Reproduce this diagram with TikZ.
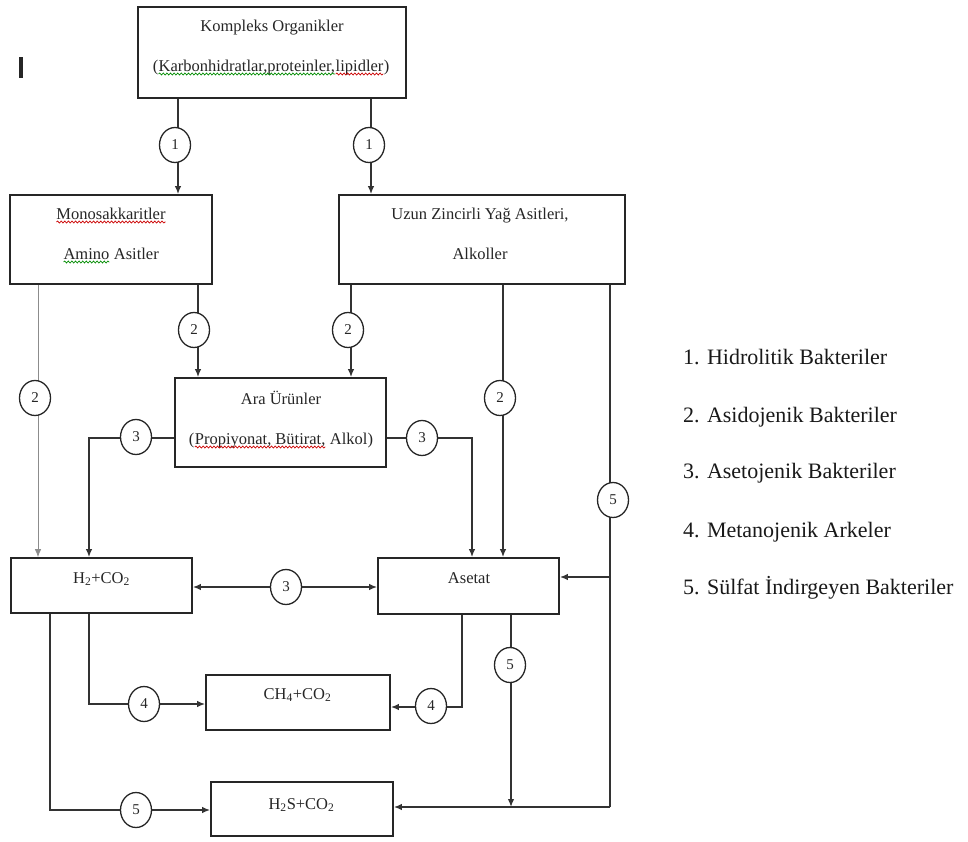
\documentclass[tikz,border=0pt]{standalone}
\usepackage{fontspec}
\setmainfont{Liberation Serif}
\usetikzlibrary{arrows.meta,shapes.geometric,decorations.pathmorphing}
\newcommand\wv[2]{\tikz[baseline=(w.base)]{\node[inner sep=0pt,outer sep=0pt](w){#2};\draw[#1,line width=0.7pt,decorate,decoration={snake,amplitude=1pt,segment length=3.6pt}] ([yshift=-3pt]w.base west) -- ([yshift=-3pt]w.base east);}}
\begin{document}
\begin{tikzpicture}[x=1pt,y=-1pt,
  box/.style={draw=black!85,line width=1.8pt,rectangle,inner sep=0pt},
  txt/.style={inner sep=0pt,anchor=base,font=\fontsize{16.5}{19}\selectfont,text=black!85},
  leg/.style={inner sep=0pt,anchor=base west,font=\fontsize{22}{26}\selectfont,text=black!90},
  num/.style={ellipse,draw=black!85,line width=1.3pt,fill=white,minimum width=31pt,minimum height=35pt,inner sep=0pt,font=\fontsize{15}{17}\selectfont,text=black!85},
  ln/.style={draw=black!80,line width=1.4pt},
  thinln/.style={draw=black!45,line width=0.8pt},
  arr/.style={-{Latex[length=8pt,width=6.5pt]}},
  darr/.style={{Latex[length=8pt,width=6.5pt]}-{Latex[length=8pt,width=6.5pt]}}]
\fill[white] (0,0) rectangle (968,841);
\useasboundingbox (0,0) rectangle (968,841);

% stray mark
\fill[black!85] (19,57) rectangle (23,78);

% boxes
\node[box,minimum width=268pt,minimum height=91pt] (top) at (272,52.5) {};
\node[box,minimum width=202pt,minimum height=89pt] (mono) at (111,239.5) {};
\node[box,minimum width=286pt,minimum height=89pt] (uzun) at (482,239.5) {};
\node[box,minimum width=211pt,minimum height=89pt] (ara) at (280.5,422.5) {};
\node[box,minimum width=181pt,minimum height=55pt] (h2) at (101.5,585.5) {};
\node[box,minimum width=181pt,minimum height=56pt] (aset) at (468.5,586) {};
\node[box,minimum width=184pt,minimum height=55pt] (ch4) at (298,702.5) {};
\node[box,minimum width=182pt,minimum height=54pt] (h2s) at (302,809) {};

% box texts
\node[txt] (t1) at (272,31) {Kompleks Organikler};
\node[txt] (t2) at (271,71) {(\wv{green!55!black}{Karbonhidratlar,proteinler,}\wv{red!80!black}{lipidler})};
\node[txt] (t3) at (111,219) {\wv{red!80!black}{Monosakkaritler}};
\node[txt] (t4) at (111,259) {\wv{green!55!black}{Amino} Asitler};
\node[txt] (t5) at (480,219) {Uzun Zincirli Yağ Asitleri,};
\node[txt] (t6) at (480,259) {Alkoller};
\node[txt] (t7) at (281,404) {Ara Ürünler};
\node[txt] (t8) at (281,444) {(\wv{red!80!black}{Propiyonat, Bütirat,} Alkol)};
\node[txt] (t9) at (101.5,583) {H\textsubscript{2}+CO\textsubscript{2}};
\node[txt] (t10) at (469,583) {Asetat};
\node[txt] (t11) at (297.5,699) {CH\textsubscript{4}+CO\textsubscript{2}};
\node[txt] (t12) at (301.5,809) {H\textsubscript{2}S+CO\textsubscript{2}};

% legend
\node[leg] (l1) at (683,364) {1. Hidrolitik Bakteriler};
\node[leg] (l2) at (683,422) {2. Asidojenik Bakteriler};
\node[leg] (l3) at (683,478) {3. Asetojenik Bakteriler};
\node[leg] (l4) at (683,537) {4. Metanojenik Arkeler};
\node[leg] (l5) at (683,594) {5. Sülfat İndirgeyen Bakteriler};

% x and y guides
\coordinate (xa) at (178,0);
\coordinate (xb) at (371,0);
\coordinate (xc) at (38,0);
\coordinate (xd) at (198,0);
\coordinate (xe) at (351,0);
\coordinate (xf) at (503,0);
\coordinate (xg) at (610,0);
\coordinate (xh) at (89,0);
\coordinate (xi) at (472,0);
\coordinate (xj) at (462,0);
\coordinate (xk) at (511,0);
\coordinate (xl) at (50,0);
\coordinate (ya) at (0,438);
\coordinate (yb) at (0,587);
\coordinate (yc) at (0,704);
\coordinate (yd) at (0,707);
\coordinate (ye) at (0,807);
\coordinate (yf) at (0,577);
\coordinate (yg) at (0,810);

% connectors
\draw[ln,arr] (top.south -| xa) -- (mono.north -| xa);
\draw[ln,arr] (top.south -| xb) -- (uzun.north -| xb);
\draw[thinln,arr] (mono.south -| xc) -- (h2.north -| xc);
\draw[ln,arr] (mono.south -| xd) -- (ara.north -| xd);
\draw[ln,arr] (uzun.south -| xe) -- (ara.north -| xe);
\draw[ln,arr] (uzun.south -| xf) -- (aset.north -| xf);
\draw[ln,arr] (ara.west |- ya) -| (h2.north -| xh);
\draw[ln,arr] (ara.east |- ya) -| (aset.north -| xi);
\draw[ln,darr] (h2.east |- yb) -- (aset.west |- yb);
\draw[ln,arr] (h2.south -| xh) |- (ch4.west |- yc);
\draw[ln,arr] (aset.south -| xj) |- (ch4.east |- yd);
\draw[ln] (uzun.south -| xg) -- (xg |- ye);
\draw[ln,arr] (xg |- yf) -- (aset.east |- yf);
\draw[ln,arr] (xg |- ye) -- (h2s.east |- ye);
\draw[ln,arr] (aset.south -| xk) -- (xk |- ye);
\draw[ln,arr] (h2.south -| xl) |- (h2s.west |- yg);

% numbered circles
\node[num] (c1a) at (175,145) {1};
\node[num] (c1b) at (369,145) {1};
\node[num] (c2a) at (35,398) {2};
\node[num] (c2b) at (194,330) {2};
\node[num] (c2c) at (348,330) {2};
\node[num] (c2d) at (500,398) {2};
\node[num] (c3a) at (136,437) {3};
\node[num] (c3b) at (422,438) {3};
\node[num] (c3c) at (286,587) {3};
\node[num] (c4a) at (144,704) {4};
\node[num] (c4b) at (431,706) {4};
\node[num] (c5a) at (613,500) {5};
\node[num] (c5b) at (510,665) {5};
\node[num] (c5c) at (136,810) {5};
\end{tikzpicture}
\end{document}
